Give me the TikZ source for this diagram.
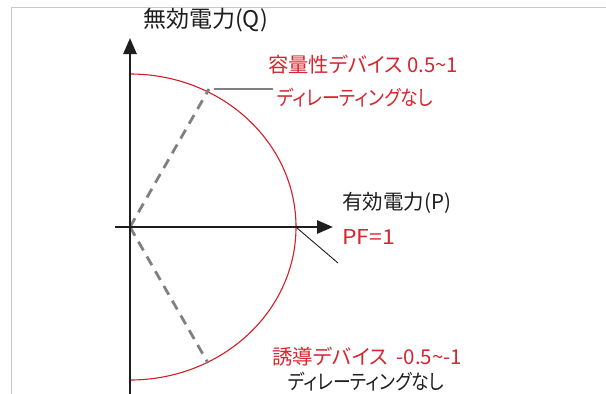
\documentclass[tikz,border=0pt]{standalone}
\usepackage{fontspec}
\usepackage{graphicx}
\setmainfont{Noto Sans CJK JP}[RawFeature=+palt]
\usetikzlibrary{arrows.meta}
\definecolor{pfred}{RGB}{214,38,48}
\definecolor{arcred}{RGB}{210,30,40}
\definecolor{dashgray}{RGB}{128,128,128}
\definecolor{framegray}{RGB}{200,200,200}
\definecolor{inkblack}{RGB}{30,30,30}
\newcommand{\sx}[2]{\scalebox{#1}[1]{#2}}
\tikzset{
  axisline/.style={line width=2.7pt, draw=inkblack, -{Triangle[length=16pt,width=13pt]}},
  vecline/.style={line width=2.8pt, draw=dashgray, dash pattern=on 10pt off 7pt},
  arcline/.style={line width=1.1pt, draw=arcred},
  leadgray/.style={line width=1.4pt, draw=dashgray},
  leadblack/.style={line width=0.9pt, draw=inkblack},
  lbl/.style={anchor=west, inner sep=0pt, font=\fontsize{20.5}{24}\selectfont, text=inkblack},
  biglbl/.style={lbl, font=\fontsize{23}{27}\selectfont},
  redlbl/.style={lbl, text=pfred},
  frameline/.style={line width=1pt, draw=framegray}
}
\begin{document}
\begin{tikzpicture}[x=1pt,y=-1pt]
\useasboundingbox (0,0) rectangle (606,394);
\fill[white] (0,0) rectangle (606,394);
% frame
\coordinate (fbl) at (11.5,394);
\coordinate (ftl) at (11.5,7.5);
\coordinate (ftr) at (606,7.5);
\draw[frameline] (fbl) -- (ftl) -- (ftr);
% key points
\coordinate (O) at (130,227);
\coordinate (Qtop) at (130,38);
\coordinate (Qbot) at (130,394);
\coordinate (Pleft) at (115,227);
\coordinate (Pright) at (333,227);
\coordinate (Atop) at (130,74);
\coordinate (Cap) at (209,89);
\coordinate (Ind) at (208,363);
\coordinate (CapEnd) at (273,89);
\coordinate (PFpt) at (297,228);
\coordinate (PFend) at (338,263);
% arc
\draw[arcline] (Atop) arc[start angle=90, end angle=-90, x radius=166pt, y radius=153pt];
% dashed vectors
\draw[vecline] (O) -- (Cap);
\draw[vecline] (O) -- (Ind);
% leaders
\draw[leadgray] (Cap) ++(5,0) -- (CapEnd);
\draw[leadblack] (PFpt) -- (PFend);
% axes
\draw[axisline] (Qbot) -- (Qtop);
\draw[axisline] (Pleft) -- (Pright);
% labels
\node[biglbl] (qlabel) at (143,20) {無効電力(Q)};
\node[redlbl] (caplabel) at (268,65) {\sx{0.99}{容量性デバイス 0.5\char"007E 1}};
\node[redlbl] (capnote) at (277,98) {\sx{0.87}{ディレーティングなし}};
\node[lbl] (plabel) at (342,203) {有効電力(P)};
\node[redlbl] (pflabel) at (342,237) {\sx{1.12}{PF=1}};
\node[redlbl] (indlabel) at (272,357) {\sx{1.0}{誘導デバイス\ \ -0.5\char"007E -1}};
\node[lbl] (indnote) at (288,382) {\sx{0.87}{ディレーティングなし}};
\end{tikzpicture}
\end{document}
